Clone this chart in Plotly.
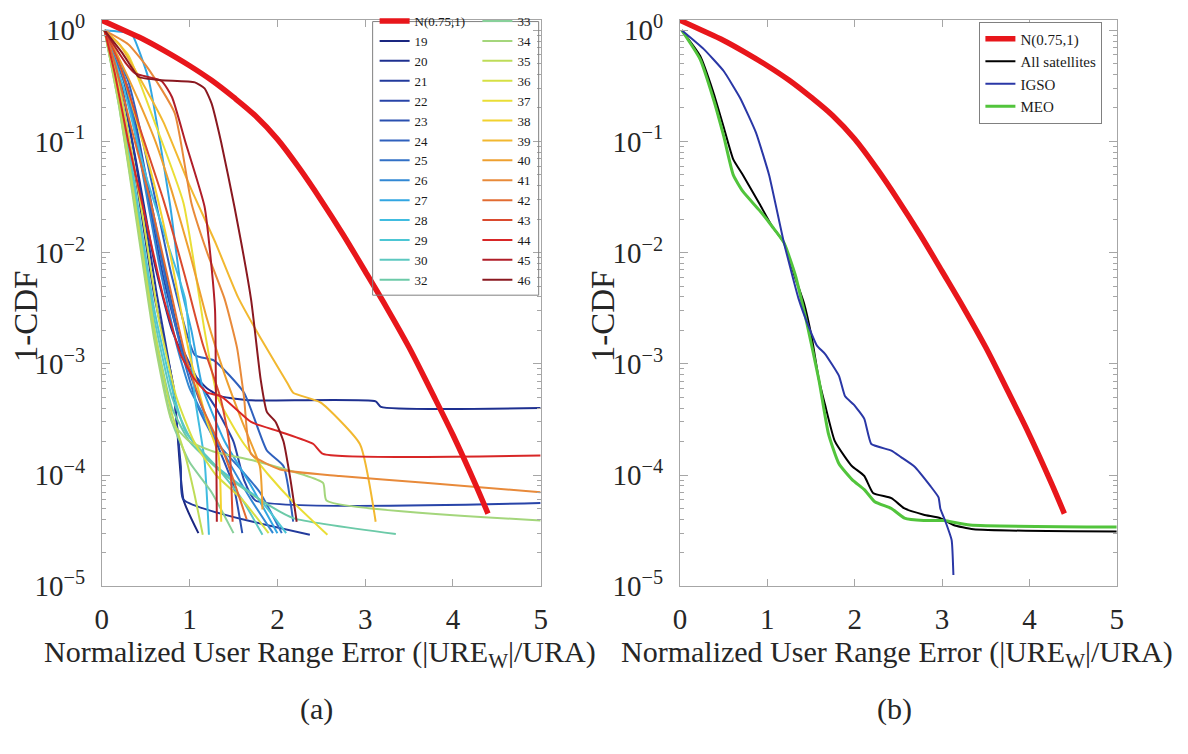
import plotly.graph_objects as go

W, H = 1188, 754
FONT = "Liberation Serif, Times New Roman, serif"

# ---------------- data ----------------
x_ticks = [0, 1, 2, 3, 4, 5]
y_tickvals = [1e-5, 1e-4, 1e-3, 1e-2, 1e-1, 1]
y_ticktext = ["10<sup>\u22125</sup>", "10<sup>\u22124</sup>", "10<sup>\u22123</sup>",
              "10<sup>\u22122</sup>", "10<sup>\u22121</sup>", "10<sup>0</sup>"]

# overbound N(0.75,1) curve (both panels)
N_x = [0, 0.25, 0.5, 0.75, 1.0, 1.25, 1.5, 1.75, 2.0, 2.25, 2.5, 2.75,
       3.0, 3.25, 3.5, 3.75, 4.0, 4.25, 4.4]
N_y = [1.23, 1.0, 0.81, 0.63, 0.48, 0.355, 0.25, 0.17, 0.105, 0.0575, 0.0295,
       0.0145, 6.8e-3, 3.16e-3, 1.41e-3, 5.75e-4, 2.3e-4, 8.5e-5, 4.5e-5]

# panel (a): individual satellites
sat19_x = [0.03, 0.2, 0.4, 0.6, 0.82, 0.93, 1.1]
sat19_y = [1.0, 0.3, 0.04, 4e-3, 6e-4, 6e-5, 3e-5]
sat20_x = [0.03, 0.2, 0.4, 0.6, 0.8, 1.0, 1.2, 1.36, 1.7, 3.12, 3.18, 5.0]
sat20_y = [1.0, 0.38, 0.06, 8e-3, 2e-3, 9e-4, 6e-4, 5.1e-4, 4.7e-4, 4.6e-4, 4.1e-4, 4.0e-4]
sat21_x = [0.03, 0.22, 0.42, 0.62, 0.8, 0.9, 0.93, 2.37]
sat21_y = [1.0, 0.33, 0.045, 4.5e-3, 7e-4, 1.2e-4, 6e-5, 2.9e-5]
sat22_x = [0.03, 0.25, 0.5, 0.7, 0.9, 1.1, 1.3, 1.5, 1.62, 1.75, 5.0]
sat22_y = [1.0, 0.35, 0.04, 6e-3, 1.5e-3, 7e-4, 4e-4, 2e-4, 9e-5, 5.9e-5, 5.6e-5]
sat23_x = [0.03, 0.3, 0.5, 0.7, 0.9, 1.1, 1.3, 1.5, 1.6]
sat23_y = [1.0, 0.3, 0.05, 8e-3, 1.5e-3, 5e-4, 2e-4, 8e-5, 3e-5]
sat24_x = [0.03, 0.3, 0.55, 0.8, 1.06, 1.28, 1.62, 1.88, 2.07, 2.18]
sat24_y = [1.0, 0.35, 0.05, 6e-3, 1.2e-3, 1.07e-3, 5.5e-4, 1.66e-4, 1.2e-4, 3.8e-5]
sat25_x = [0.03, 0.28, 0.5, 0.72, 0.92, 1.1, 1.3, 1.55, 1.8, 2.05]
sat25_y = [1.0, 0.3, 0.045, 6e-3, 1.2e-3, 4e-4, 2e-4, 1.2e-4, 7e-5, 3e-5]
sat26_x = [0.03, 0.25, 0.45, 0.65, 0.85, 1.0, 1.2, 1.45, 1.7, 1.95]
sat26_y = [1.0, 0.4, 0.06, 8e-3, 1.5e-3, 6e-4, 3e-4, 1.3e-4, 6e-5, 3e-5]
sat27_x = [0.03, 0.3, 0.35, 0.53, 0.78, 0.9, 1.02, 1.15, 1.4, 1.7, 2.0]
sat27_y = [1.0, 0.95, 0.9, 0.37, 0.026, 5e-3, 2e-3, 6e-4, 2e-4, 8e-5, 3e-5]
sat28_x = [0.03, 0.25, 0.5, 0.75, 0.95, 1.06, 1.17, 1.22]
sat28_y = [1.0, 0.3, 0.05, 0.012, 3.8e-3, 5e-4, 1.35e-4, 2.9e-5]
sat29_x = [0.03, 0.2, 0.4, 0.6, 0.8, 0.95, 1.2, 1.5, 1.8, 2.1]
sat29_y = [1.0, 0.3, 0.03, 3e-3, 6e-4, 2.5e-4, 1.4e-4, 9e-5, 6e-5, 3e-5]
sat30_x = [0.03, 0.2, 0.4, 0.6, 0.8, 1.0, 1.3, 1.6, 1.83]
sat30_y = [1.0, 0.25, 0.025, 2.5e-3, 5e-4, 2.2e-4, 1.2e-4, 6e-5, 2.9e-5]
sat32_x = [0.03, 0.2, 0.4, 0.6, 0.8, 1.0, 1.4, 1.8, 2.18, 3.35]
sat32_y = [1.0, 0.22, 0.02, 2e-3, 4e-4, 2e-4, 1e-4, 6e-5, 4.1e-5, 2.95e-5]
sat33_x = [0.03, 0.2, 0.4, 0.6, 0.8, 1.0, 1.25, 1.5]
sat33_y = [1.0, 0.2, 0.02, 1.8e-3, 3e-4, 1.3e-4, 7e-5, 3e-5]
sat34_x = [0.03, 0.2, 0.4, 0.6, 0.8, 1.0, 1.3, 1.73, 2.52, 2.56, 5.0]
sat34_y = [1.0, 0.2, 0.018, 1.6e-3, 3e-4, 2e-4, 1.6e-4, 1.35e-4, 8.5e-5, 5.9e-5, 3.9e-5]
sat35_x = [0.03, 0.2, 0.4, 0.6, 0.8, 0.95, 1.05, 1.15]
sat35_y = [1.0, 0.22, 0.022, 2e-3, 3.5e-4, 1.5e-4, 7e-5, 2.9e-5]
sat36_x = [0.03, 0.22, 0.45, 0.65, 0.85, 1.05, 1.3, 1.6, 1.9]
sat36_y = [1.0, 0.25, 0.025, 2.5e-3, 5e-4, 2e-4, 1e-4, 6e-5, 3e-5]
sat37_x = [0.03, 0.3, 0.6, 0.93, 1.17, 1.32, 1.6, 1.9, 2.2, 2.57]
sat37_y = [1.0, 0.6, 0.15, 0.028, 2e-3, 5e-4, 2e-4, 1e-4, 5.5e-5, 2.9e-5]
sat38_x = [0.03, 0.2, 0.4, 0.6, 0.8, 1.0, 1.2, 1.33, 1.36]
sat38_y = [1.0, 0.5, 0.15, 0.04, 8e-3, 1.2e-3, 3e-4, 1.5e-4, 3.8e-5]
sat39_x = [0.03, 0.2, 0.45, 0.7, 1.0, 1.3, 1.55, 1.81, 2.11, 2.18, 2.49, 2.94, 3.12]
sat39_y = [1.0, 0.75, 0.35, 0.15, 0.04, 0.012, 4e-3, 1.7e-3, 6.8e-4, 5.5e-4, 4.5e-4, 1.9e-4, 3.8e-5]
sat40_x = [0.03, 0.2, 0.4, 0.61, 0.8, 1.0, 1.2, 1.4, 1.6, 1.8, 1.83]
sat40_y = [1.0, 0.55, 0.25, 0.1, 0.035, 0.01, 2.5e-3, 8e-4, 3e-4, 1.2e-4, 4.9e-5]
sat41_x = [0.03, 0.3, 0.53, 0.83, 1.02, 1.2, 1.4, 1.54, 1.62, 1.7, 2.03, 2.71, 3.68, 5.0]
sat41_y = [1.0, 0.75, 0.45, 0.18, 0.028, 0.01, 3.8e-3, 1.4e-3, 5e-4, 1.55e-4, 1.12e-4, 9.8e-5, 8.5e-5, 7e-5]
sat42_x = [0.03, 0.15, 0.35, 0.55, 0.75, 0.95, 1.15, 1.4, 1.65]
sat42_y = [1.0, 0.5, 0.12, 0.03, 6e-3, 1.2e-3, 4e-4, 1.5e-4, 4e-5]
sat43_x = [0.03, 0.2, 0.45, 0.7, 0.95, 1.15, 1.35, 1.45, 1.49]
sat43_y = [1.0, 0.5, 0.12, 0.03, 6e-3, 1.5e-3, 5e-4, 2e-4, 3.8e-5]
sat44_x = [0.03, 0.15, 0.3, 0.5, 0.7, 0.9, 1.06, 1.2, 1.36, 1.7, 2.03, 2.41, 2.52, 5.0]
sat44_y = [1.0, 0.4, 0.1, 0.02, 4e-3, 1.2e-3, 7.2e-4, 5.5e-4, 5.1e-4, 3e-4, 2.45e-4, 1.9e-4, 1.55e-4, 1.5e-4]
sat45_x = [0.03, 0.27, 0.38, 0.68, 0.8, 0.95, 1.17, 1.25, 1.29, 1.3, 1.31]
sat45_y = [1.0, 0.51, 0.41, 0.35, 0.25, 0.1, 0.026, 7.4e-3, 3e-3, 5e-4, 3.8e-5]
sat46_x = [0.03, 0.23, 0.35, 0.42, 0.68, 1.06, 1.17, 1.25, 1.36, 1.51, 1.7, 1.81,
           1.88, 1.98, 2.07, 2.15, 2.22]
sat46_y = [1.0, 0.63, 0.45, 0.38, 0.355, 0.34, 0.3, 0.22, 0.098, 0.026, 3.8e-3, 7.2e-4,
           3.7e-4, 3e-4, 2e-4, 9e-5, 3.8e-5]

sat_ids = ["19", "20", "21", "22", "23", "24", "25", "26", "27", "28", "29", "30", "32",
           "33", "34", "35", "36", "37", "38", "39", "40", "41", "42", "43", "44", "45", "46"]
sat_colors = ["#1a2680", "#1e3090", "#223a9c", "#2844a8", "#2a50b0", "#2f60bd", "#3270c6",
              "#3288d4", "#32a6e2", "#40bce0", "#4cc6d4", "#5cc8c0", "#6ccaa8",
              "#88d09a", "#a4d67c", "#bedc58", "#d6e044", "#eade36", "#f2d22e", "#f2b830",
              "#eea030", "#e88a3a", "#e26c32", "#da4a2e", "#d82626", "#b01e28", "#8a1820"]

# panel (b): constellation groups
all_x = [0.02, 0.23, 0.38, 0.5, 0.61, 0.72, 0.91, 1.06, 1.19, 1.32, 1.42, 1.51, 1.59,
         1.66, 1.77, 1.89, 1.97, 2.11, 2.21, 2.42, 2.57, 2.79, 2.98, 3.13, 3.36, 5.0]
all_y = [1.0, 0.59, 0.28, 0.135, 0.069, 0.05, 0.0275, 0.017, 0.0123, 5.9e-3, 3.5e-3,
         1.7e-3, 7.2e-4, 4.3e-4, 2.04e-4, 1.45e-4, 1.2e-4, 9.8e-5, 6.9e-5, 6.2e-5, 5e-5,
         4.4e-5, 4.1e-5, 3.55e-5, 3.25e-5, 3.1e-5]
igso_x = [0.02, 0.27, 0.5, 0.69, 0.87, 1.02, 1.19, 1.36, 1.48, 1.57, 1.66, 1.82, 1.89,
          1.99, 2.11, 2.19, 2.42, 2.53, 2.68, 2.87, 2.96, 2.98, 3.04, 3.11, 3.13]
igso_y = [1.0, 0.68, 0.43, 0.245, 0.12, 0.05, 0.0123, 3.8e-3, 2.1e-3, 1.45e-3, 1.23e-3,
          7.8e-4, 5.1e-4, 4.3e-4, 3.2e-4, 1.9e-4, 1.66e-4, 1.45e-4, 1.2e-4, 7.9e-5, 6.3e-5,
          5e-5, 3.8e-5, 2.6e-5, 1.26e-5]
meo_x = [0.02, 0.23, 0.38, 0.5, 0.61, 0.72, 0.91, 1.06, 1.19, 1.32, 1.4, 1.44, 1.59,
         1.70, 1.82, 1.97, 2.11, 2.23, 2.42, 2.57, 2.79, 3.02, 3.32, 5.0]
meo_y = [1.0, 0.55, 0.245, 0.112, 0.05, 0.0355, 0.024, 0.017, 0.0123, 6.3e-3, 3.5e-3,
         2.57e-3, 7.2e-4, 2.34e-4, 1.26e-4, 9.1e-5, 7.4e-5, 5.75e-5, 5e-5, 4.1e-5, 3.9e-5,
         3.9e-5, 3.55e-5, 3.4e-5]

# ---------------- figure ----------------
sat_data = {
    "19": (sat19_x, sat19_y), "20": (sat20_x, sat20_y), "21": (sat21_x, sat21_y),
    "22": (sat22_x, sat22_y), "23": (sat23_x, sat23_y), "24": (sat24_x, sat24_y),
    "25": (sat25_x, sat25_y), "26": (sat26_x, sat26_y), "27": (sat27_x, sat27_y),
    "28": (sat28_x, sat28_y), "29": (sat29_x, sat29_y), "30": (sat30_x, sat30_y),
    "32": (sat32_x, sat32_y), "33": (sat33_x, sat33_y), "34": (sat34_x, sat34_y),
    "35": (sat35_x, sat35_y), "36": (sat36_x, sat36_y), "37": (sat37_x, sat37_y),
    "38": (sat38_x, sat38_y), "39": (sat39_x, sat39_y), "40": (sat40_x, sat40_y),
    "41": (sat41_x, sat41_y), "42": (sat42_x, sat42_y), "43": (sat43_x, sat43_y),
    "44": (sat44_x, sat44_y), "45": (sat45_x, sat45_y), "46": (sat46_x, sat46_y),
}

fig = go.Figure()

for i, sid in enumerate(sat_ids):
    xs, ys = sat_data[sid]
    fig.add_trace(go.Scatter(
        x=xs, y=ys, mode="lines", name=sid,
        line=dict(color=sat_colors[i], width=2, shape="spline", smoothing=0.5),
        xaxis="x", yaxis="y",
        legend="legend" if i < 13 else "legend2",
        legendrank=10 + i,
    ))

fig.add_trace(go.Scatter(
    x=N_x, y=N_y, mode="lines", name="N(0.75,1)",
    line=dict(color="#e8161b", width=5.5, shape="spline", smoothing=1),
    xaxis="x", yaxis="y", legend="legend", legendrank=1,
))

# panel (b)
fig.add_trace(go.Scatter(x=all_x, y=all_y, mode="lines", name="All satellites",
                         line=dict(color="#000000", width=2, shape="spline", smoothing=0.5),
                         xaxis="x2", yaxis="y2", legend="legend3", legendrank=2))
fig.add_trace(go.Scatter(x=meo_x, y=meo_y, mode="lines", name="MEO",
                         line=dict(color="#52c43c", width=3, shape="spline", smoothing=0.5),
                         xaxis="x2", yaxis="y2", legend="legend3", legendrank=4))
fig.add_trace(go.Scatter(x=igso_x, y=igso_y, mode="lines", name="IGSO",
                         line=dict(color="#2a37a6", width=2, shape="spline", smoothing=0.4),
                         xaxis="x2", yaxis="y2", legend="legend3", legendrank=3))
fig.add_trace(go.Scatter(x=N_x, y=N_y, mode="lines", name="N(0.75,1)",
                         line=dict(color="#e8161b", width=5.5, shape="spline", smoothing=1),
                         xaxis="x2", yaxis="y2", legend="legend3", legendrank=1))

AX = "#a6a6a6"
TICKFONT = dict(family=FONT, size=29, color="#262626")


def xax(domain, anchor):
    return dict(domain=domain, anchor=anchor, range=[0, 5], tickmode="array",
                tickvals=x_ticks, ticks="inside", ticklen=7, tickcolor=AX,
                showline=True, linecolor=AX, linewidth=1, mirror="ticks",
                showgrid=False, zeroline=False, tickfont=TICKFONT,
                ticklabelstandoff=7)


def yax(anchor):
    return dict(domain=[1 - 597 / H, 1 - 11 / H], anchor=anchor, type="log",
                range=[-5, 0.0957], tickmode="array", tickvals=y_tickvals,
                ticktext=y_ticktext, ticks="inside", ticklen=8, tickcolor=AX,
                showline=True, linecolor=AX, linewidth=1, mirror="ticks",
                showgrid=False, zeroline=False, tickfont=TICKFONT,
                ticklabelstandoff=10,
                minor=dict(ticks="inside", ticklen=4, tickcolor=AX, dtick="D1",
                           showgrid=False))


TITLEFONT = dict(family=FONT, size=30, color="#262626")
YTITLEFONT = dict(family=FONT, size=33, color="#262626")
xtitle = "Normalized User Range Error (|URE<sub>W</sub>|/URA)"

fig.update_layout(
    width=W, height=H,
    margin=dict(l=0, r=0, t=0, b=0),
    paper_bgcolor="white", plot_bgcolor="white",
    xaxis=xax([96 / W, 540 / W], "y"),
    yaxis=yax("x"),
    xaxis2=xax([681 / W, 1123 / W], "y2"),
    yaxis2=yax("x2"),
    showlegend=True,
    legend=dict(x=372 / W, y=1 + 3 / H, xanchor="left", yanchor="top",
                bgcolor="rgba(0,0,0,0)", borderwidth=0, tracegroupgap=0,
                font=dict(family=FONT, size=13, color="#1a1a1a")),
    legend2=dict(x=476 / W, y=1 + 3 / H, xanchor="left", yanchor="top",
                 bgcolor="rgba(0,0,0,0)", borderwidth=0, tracegroupgap=0,
                 font=dict(family=FONT, size=13, color="#1a1a1a")),
    legend3=dict(x=984 / W, y=1 - 13 / H, xanchor="left", yanchor="top",
                 bgcolor="white", bordercolor="#808080", borderwidth=1, tracegroupgap=0,
                 font=dict(family=FONT, size=15, color="#1a1a1a")),
    shapes=[dict(type="rect", xref="paper", yref="paper",
                 x0=370 / W, x1=538 / W, y0=1 - 13 / H, y1=1 - 296 / H,
                 line=dict(color="#808080", width=1), layer="above")],
    annotations=[
        dict(text=xtitle, x=317 / W, y=1 - 667 / H, xref="paper", yref="paper",
             showarrow=False, font=TITLEFONT, xanchor="center", yanchor="middle"),
        dict(text=xtitle, x=901 / W, y=1 - 667 / H, xref="paper", yref="paper",
             showarrow=False, font=TITLEFONT, xanchor="center", yanchor="middle"),
        dict(text="1-CDF", x=20 / W, y=1 - 318 / H, xref="paper", yref="paper",
             showarrow=False, font=YTITLEFONT, textangle=-90,
             xanchor="center", yanchor="middle"),
        dict(text="1-CDF", x=604 / W, y=1 - 318 / H, xref="paper", yref="paper",
             showarrow=False, font=YTITLEFONT, textangle=-90,
             xanchor="center", yanchor="middle"),
        dict(text="(a)", x=313 / W, y=1 - 724 / H, xref="paper", yref="paper",
             showarrow=False, font=TITLEFONT, xanchor="center", yanchor="middle"),
        dict(text="(b)", x=898 / W, y=1 - 724 / H, xref="paper", yref="paper",
             showarrow=False, font=TITLEFONT, xanchor="center", yanchor="middle"),
    ],
)

fig.write_html("out.html")
